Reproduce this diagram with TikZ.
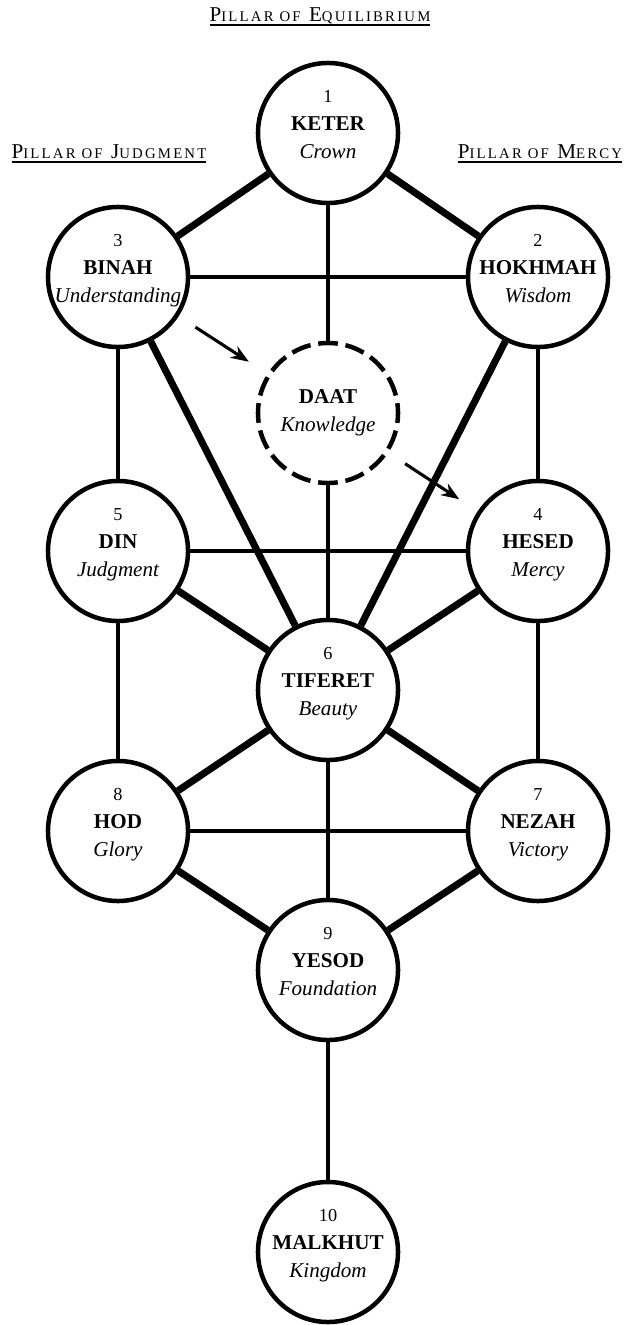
\documentclass[tikz,border=0pt]{standalone}
\usepackage{fontspec}
\setmainfont{Liberation Serif}
\newfontfamily\pillarfont[LetterSpace=15]{Liberation Serif}
\usepackage{tikz}
\usetikzlibrary{arrows.meta, positioning}

\newcommand\smc[1]{{\fontsize{10.5}{10.5}\selectfont #1}}
\newcommand\uline[1]{\setbox0\hbox{#1}\rlap{\rule[-2.5pt]{\wd0}{1pt}}\box0}
\newcommand\sefira[3]{\makebox[0pt]{\fontsize{13}{20}\selectfont #1}\\
  \makebox[0pt]{\bfseries #2}\\
  \makebox[0pt]{\itshape #3}\rule[-12pt]{0pt}{1pt}}

\begin{document}
\begin{tikzpicture}[x=0.025cm, y=-0.025cm,
            sefira/.style={draw, circle, line width=3.2pt, fill=white, minimum size=3.5cm, inner sep=0pt, align=center, font=\fontsize{15}{20}\selectfont},
            daat/.style={sefira, dash pattern=on 14pt off 5.55pt, dash phase=7pt},
            channel/.style={line width=2.5pt},
            mainchannel/.style={line width=5pt},
            flow/.style={-{Stealth[length=0.45cm, width=0.34cm]}, line width=2.2pt, shorten <=0.5cm, shorten >=0.55cm},
            pillar/.style={font=\pillarfont\fontsize{15}{15}\selectfont, inner sep=0pt}]

            \useasboundingbox (0,0) rectangle (626,1325);

            % 三柱
            \node[pillar, anchor=base] (equilibrium) at (320,22) {\uline{P\smc{ILLAR OF} E\smc{QUILIBRIUM}}};
            \node[pillar, anchor=base] (judgment) at (109,159) {\uline{P\smc{ILLAR OF} J\smc{UDGMENT}}};
            \node[pillar, anchor=base] (mercy) at (540,159) {\uline{P\smc{ILLAR OF} M\smc{ERCY}}};

            % 质点
            \node[sefira] (keter) at (328,133) {\sefira{1}{KETER}{Crown}};
            \node[sefira] (binah) at (118,277) {\sefira{3}{BINAH}{Understanding}};
            \node[sefira] (hokhmah) at (538,277) {\sefira{2}{HOKHMAH}{Wisdom}};
            \node[daat] (daat) at (328,413) {\textbf{DAAT}\\\textit{Knowledge}};
            \node[sefira] (din) at (118,551) {\sefira{5}{DIN}{Judgment}};
            \node[sefira] (hesed) at (538,551) {\sefira{4}{HESED}{Mercy}};
            \node[sefira] (tiferet) at (328,690) {\sefira{6}{TIFERET}{Beauty}};
            \node[sefira] (hod) at (118,831) {\sefira{8}{HOD}{Glory}};
            \node[sefira] (nezah) at (538,831) {\sefira{7}{NEZAH}{Victory}};
            \node[sefira] (yesod) at (328,970) {\sefira{9}{YESOD}{Foundation}};
            \node[sefira] (malkhut) at (328,1252) {\sefira{10}{MALKHUT}{Kingdom}};

            % 粗路径
            \draw[mainchannel] (keter) -- (binah);
            \draw[mainchannel] (keter) -- (hokhmah);
            \draw[mainchannel] (binah) -- (tiferet);
            \draw[mainchannel] (hokhmah) -- (tiferet);
            \draw[mainchannel] (din) -- (tiferet);
            \draw[mainchannel] (hesed) -- (tiferet);
            \draw[mainchannel] (tiferet) -- (hod);
            \draw[mainchannel] (tiferet) -- (nezah);
            \draw[mainchannel] (hod) -- (yesod);
            \draw[mainchannel] (nezah) -- (yesod);

            % 细路径
            \draw[channel] (keter) -- (daat);
            \draw[channel] (daat) -- (tiferet);
            \draw[channel] (binah) -- (hokhmah);
            \draw[channel] (binah) -- (din);
            \draw[channel] (hokhmah) -- (hesed);
            \draw[channel] (din) -- (hesed);
            \draw[channel] (din) -- (hod);
            \draw[channel] (hesed) -- (nezah);
            \draw[channel] (hod) -- (nezah);
            \draw[channel] (tiferet) -- (yesod);
            \draw[channel] (yesod) -- (malkhut);

            % 箭头
            \draw[flow] (binah) -- (daat);
            \draw[flow] (daat) -- (hesed);
        \end{tikzpicture}
\end{document}
